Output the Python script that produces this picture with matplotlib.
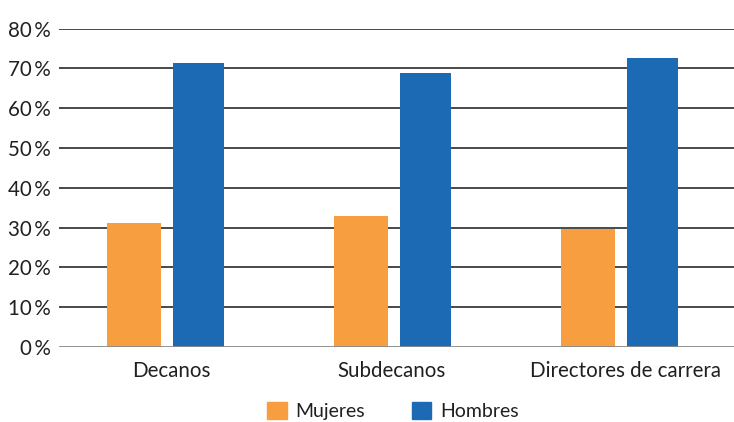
import matplotlib
matplotlib.use("Agg")
import matplotlib.pyplot as plt
import numpy as np
from matplotlib.patches import Patch
import matplotlib.transforms as mtransforms

categories = ["Decanos", "Subdecanos", "Directores de carrera"]
mujeres = [31.2, 32.9, 29.6]
hombres = [71.4, 68.8, 72.6]
yticks = [0, 10, 20, 30, 40, 50, 60, 70, 80]
ytick_labels = ["0\u2009%", "10\u2009%", "20\u2009%", "30\u2009%", "40\u2009%", "50\u2009%", "60\u2009%", "70\u2009%", "80\u2009%"]

plt.rcParams['font.family'] = ['Lato', 'DejaVu Sans']
orange = "#F79E40"
blue = "#1C6AB3"
txt = "#231f20"

fig = plt.figure(figsize=(7.34, 4.22), dpi=100)
ax = fig.add_axes([59/734, 1-347/422, 1-59/734, (347-28.7)/422])

x = np.arange(len(categories))
ax.bar(x - 0.137, mujeres, width=0.238, color=orange, zorder=3, label="Mujeres")
ax.bar(x + 0.146, hombres, width=0.225, color=blue, zorder=3, label="Hombres")

ax.set_ylim(0, 80)
ax.set_xlim(-0.467, 2.507)
ax.set_yticks(yticks)
ax.set_yticklabels(ytick_labels)
ax.set_xticks(x)
ax.set_xticklabels(categories)
for t in yticks[1:]:
    ax.axhline(t, color="#3a3a3a", lw=1.3, zorder=1)
ax.axhline(0, color="#8a8a8a", lw=1.3, zorder=4)
for s in ax.spines.values():
    s.set_visible(False)
ax.tick_params(axis='y', length=0, labelsize=14.8, colors=txt, pad=6)
ax.tick_params(axis='x', length=0, labelsize=14.8, colors=txt, pad=10)
offsets = [6, 0, 7]
for lab, dx in zip(ax.get_xticklabels(), offsets):
    lab.set_transform(lab.get_transform() + mtransforms.ScaledTranslation(dx/100, 0, fig.dpi_scale_trans))

handles = [Patch(color=orange, label="Mujeres"), Patch(color=blue, label="Hombres")]
fig.legend(handles=handles, loc="center", bbox_to_anchor=(393/734, 1-411/422), ncol=2,
           frameon=False, fontsize=14, handlelength=1.0, handleheight=1.0,
           handletextpad=0.45, columnspacing=2.4, labelcolor=txt)

fig.savefig("out.png", dpi=100)
